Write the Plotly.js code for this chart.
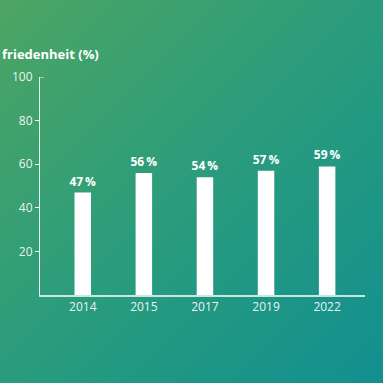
<!DOCTYPE html>
<html>
<head>
<meta charset="utf-8">
<script src="https://cdn.plot.ly/plotly-3.0.1.min.js"></script>
<style>
html,body{margin:0;padding:0;}
body{width:383px;height:383px;background:linear-gradient(135deg,#4da562 0%,#2a9c7d 50%,#12908f 100%);overflow:hidden;}
#chart{width:383px;height:383px;}
</style>
</head>
<body>
<div id="chart"></div>
<script>
const years = ['2014','2015','2017','2019','2022'];
const satisfaction = [47, 56, 54, 57, 59];
const yTicks = [20, 40, 60, 80];
const yTopTick = [100];
const titleText = 'friedenheit (%)';

const fontFam = '"Open Sans", "Noto Sans", sans-serif';
const tickColor = 'rgba(255,255,255,0.92)';

const trace = {
  type: 'bar',
  x: years,
  y: satisfaction,
  width: 0.27,
  marker: {color: '#ffffff', line: {width: 0}},
  text: satisfaction.map(v => v + '\u2009%'),
  textposition: 'outside',
  constraintext: 'none',
  textfont: {family: fontFam, size: 12, color: '#ffffff', weight: 'bold'},
  cliponaxis: false,
  hoverinfo: 'skip'
};
const dummy = {
  type: 'scatter', x: [years[0]], y: [0], yaxis: 'y2', mode: 'markers',
  marker: {opacity: 0}, hoverinfo: 'skip', showlegend: false
};

const layout = {
  width: 383, height: 383,
  margin: {l: 40, r: 18, t: 77, b: 88},
  paper_bgcolor: 'rgba(0,0,0,0)',
  plot_bgcolor: 'rgba(0,0,0,0)',
  showlegend: false,
  title: {
    text: '<b>' + titleText + '</b>',
    x: 2/383, xanchor: 'left', xref: 'container',
    y: 1 - 54/383, yanchor: 'middle', yref: 'container',
    font: {family: fontFam, size: 13, color: '#ffffff'}
  },
  xaxis: {
    type: 'category',
    range: [-0.7, 4.62],
    showline: true, linecolor: 'rgba(230,245,238,0.85)', linewidth: 1.5,
    ticks: '', showgrid: false, zeroline: false,
    tickfont: {family: fontFam, size: 12, color: tickColor},
    fixedrange: true
  },
  yaxis: {
    range: [0, 100],
    tickvals: yTicks,
    ticks: 'outside', ticklen: 4, tickcolor: tickColor, tickwidth: 1,
    showline: true, linecolor: tickColor, linewidth: 1,
    showgrid: false, zeroline: false,
    tickfont: {family: fontFam, size: 12, color: tickColor},
    fixedrange: true
  },
  yaxis2: {
    overlaying: 'y', side: 'left', anchor: 'x',
    range: [0, 100],
    tickvals: yTopTick,
    ticks: 'outside', ticklen: 4, tickcolor: 'rgba(0,0,0,0)', tickwidth: 1,
    showline: false, showgrid: false, zeroline: false,
    tickfont: {family: fontFam, size: 12, color: tickColor},
    fixedrange: true
  },
  shapes: [{
    type: 'line', xref: 'paper', yref: 'y',
    xsizemode: 'pixel', xanchor: 0, x0: 0, x1: 4,
    y0: yTopTick[0], y1: yTopTick[0],
    line: {color: tickColor, width: 1}
  }]
};

Plotly.newPlot('chart', [trace, dummy], layout, {displayModeBar: false, staticPlot: true});
</script>
</body>
</html>
